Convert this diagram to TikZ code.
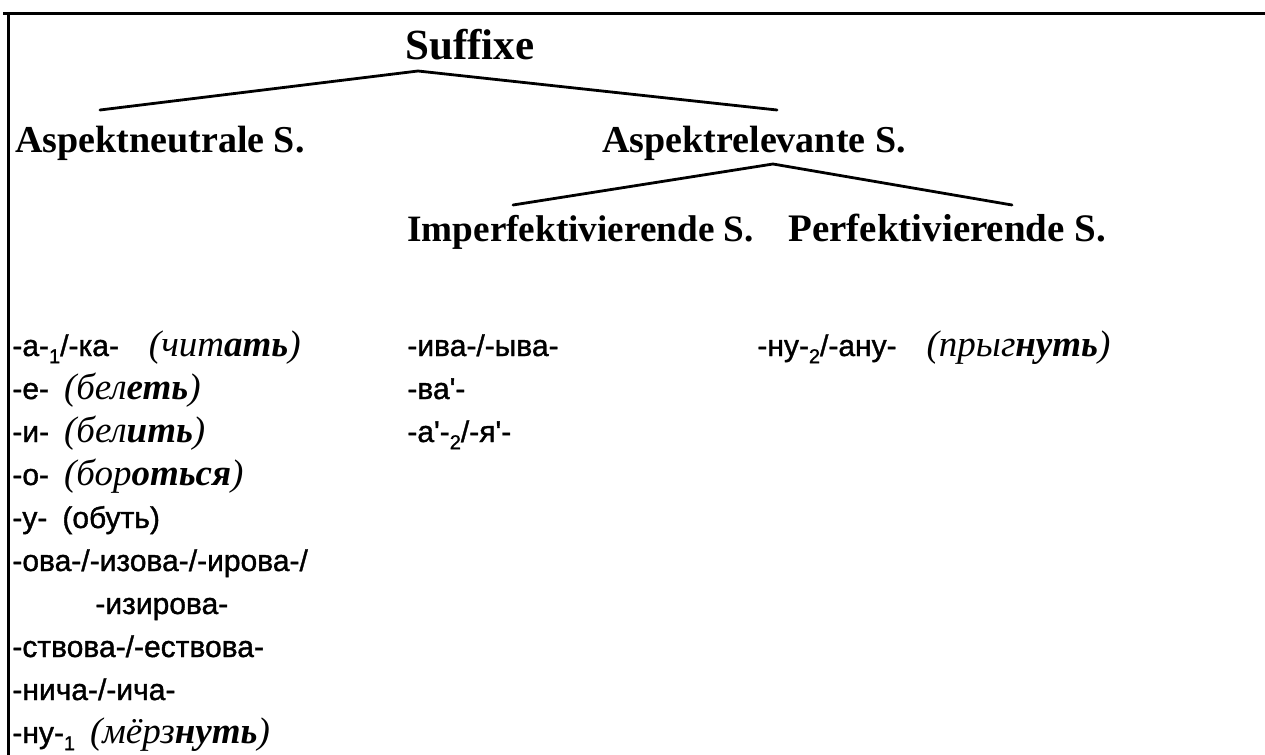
\documentclass[tikz,border=0pt]{standalone}
\usepackage{fontspec}
\setmainfont{Liberation Serif}
\newfontfamily\cyrsans[FakeBold=1.2]{Liberation Sans}
\newcommand{\lowidx}[1]{\raisebox{-0.45ex}{\fontsize{10}{10}\selectfont #1}}
\newcommand{\itw}[2]{{\rmfamily\itshape\fontsize{18.5}{18}\selectfont(#1\textbf{#2})}}
\newcommand{\apos}{\textquotesingle}
\begin{document}
\begin{tikzpicture}[x=0.5pt,y=-0.5pt,
  hdr/.style={anchor=base west, inner sep=0pt, font=\bfseries\fontsize{19}{19}\selectfont},
  rowtxt/.style={anchor=base west, inner sep=0pt, font=\cyrsans\fontsize{15}{16}\selectfont},
  branch/.style={line width=1.4pt, line cap=round},
  frame/.style={line width=1.5pt}]
\useasboundingbox (0,0) rectangle (1265,755);
% frame
\coordinate (ftl) at (8,13);
\coordinate (ftr) at (1265,13);
\coordinate (fbl) at (8,755);
\coordinate (ftl0) at (3,13);
\draw[frame] (ftl0) -- (ftr);
\draw[frame] (ftl) -- (fbl);
% headers
\node[hdr, font=\bfseries\fontsize{21.5}{21}\selectfont] (suf) at (405,60) {Suffixe};
\node[hdr] (neu) at (15,152) {Aspektneutrale S.};
\node[hdr] (rel) at (602,152) {Aspektrelevante S.};
\node[hdr, font=\bfseries\fontsize{18.6}{19}\selectfont] (imp) at (407,241) {Imperfektivierende S.};
\node[hdr, font=\bfseries\fontsize{19.5}{19}\selectfont] (perf) at (788,241) {Perfektivierende S.};
% tree 1
\coordinate (a1) at (418,71);
\coordinate (l1) at (100,110);
\coordinate (r1) at (777,110);
\draw[branch] (l1) -- (a1) -- (r1);
% tree 2
\coordinate (a2) at (773,164);
\coordinate (l2) at (513,205);
\coordinate (r2) at (1012,205);
\draw[branch] (l2) -- (a2) -- (r2);
% left column
\node[rowtxt] (n0) at (12,356) {-а-\lowidx{1}/-ка-\quad\itw{чит}{ать}};
\node[rowtxt] (n1) at (12,399) {-е-\enspace\itw{бел}{еть}};
\node[rowtxt] (n2) at (12,442) {-и-\enspace\itw{бел}{ить}};
\node[rowtxt] (n3) at (12,485) {-о-\enspace\itw{бор}{оться}};
\node[rowtxt] (n4) at (12,528) {-у-\enspace(обуть)};
\node[rowtxt] (n5) at (12,571) {-ова-/-изова-/-ирова-/};
\node[rowtxt] (n6) at (95,614) {-изирова-};
\node[rowtxt] (n7) at (12,657) {-ствова-/-ествова-};
\node[rowtxt] (n8) at (12,700) {-нича-/-ича-};
\node[rowtxt] (n9) at (12,743) {-ну-\lowidx{1}\enspace\itw{мёрз}{нуть}};
% imperfective column
\node[rowtxt] (i0) at (407,356) {-ива-/-ыва-};
\node[rowtxt] (i1) at (407,399) {-ва\apos-};
\node[rowtxt] (i2) at (407,442) {-а\apos-\lowidx{2}/-я\apos-};
% perfective column
\node[rowtxt] (p0) at (757,356) {-ну-\lowidx{2}/-ану-\quad\itw{прыг}{нуть}};
\end{tikzpicture}
\end{document}
